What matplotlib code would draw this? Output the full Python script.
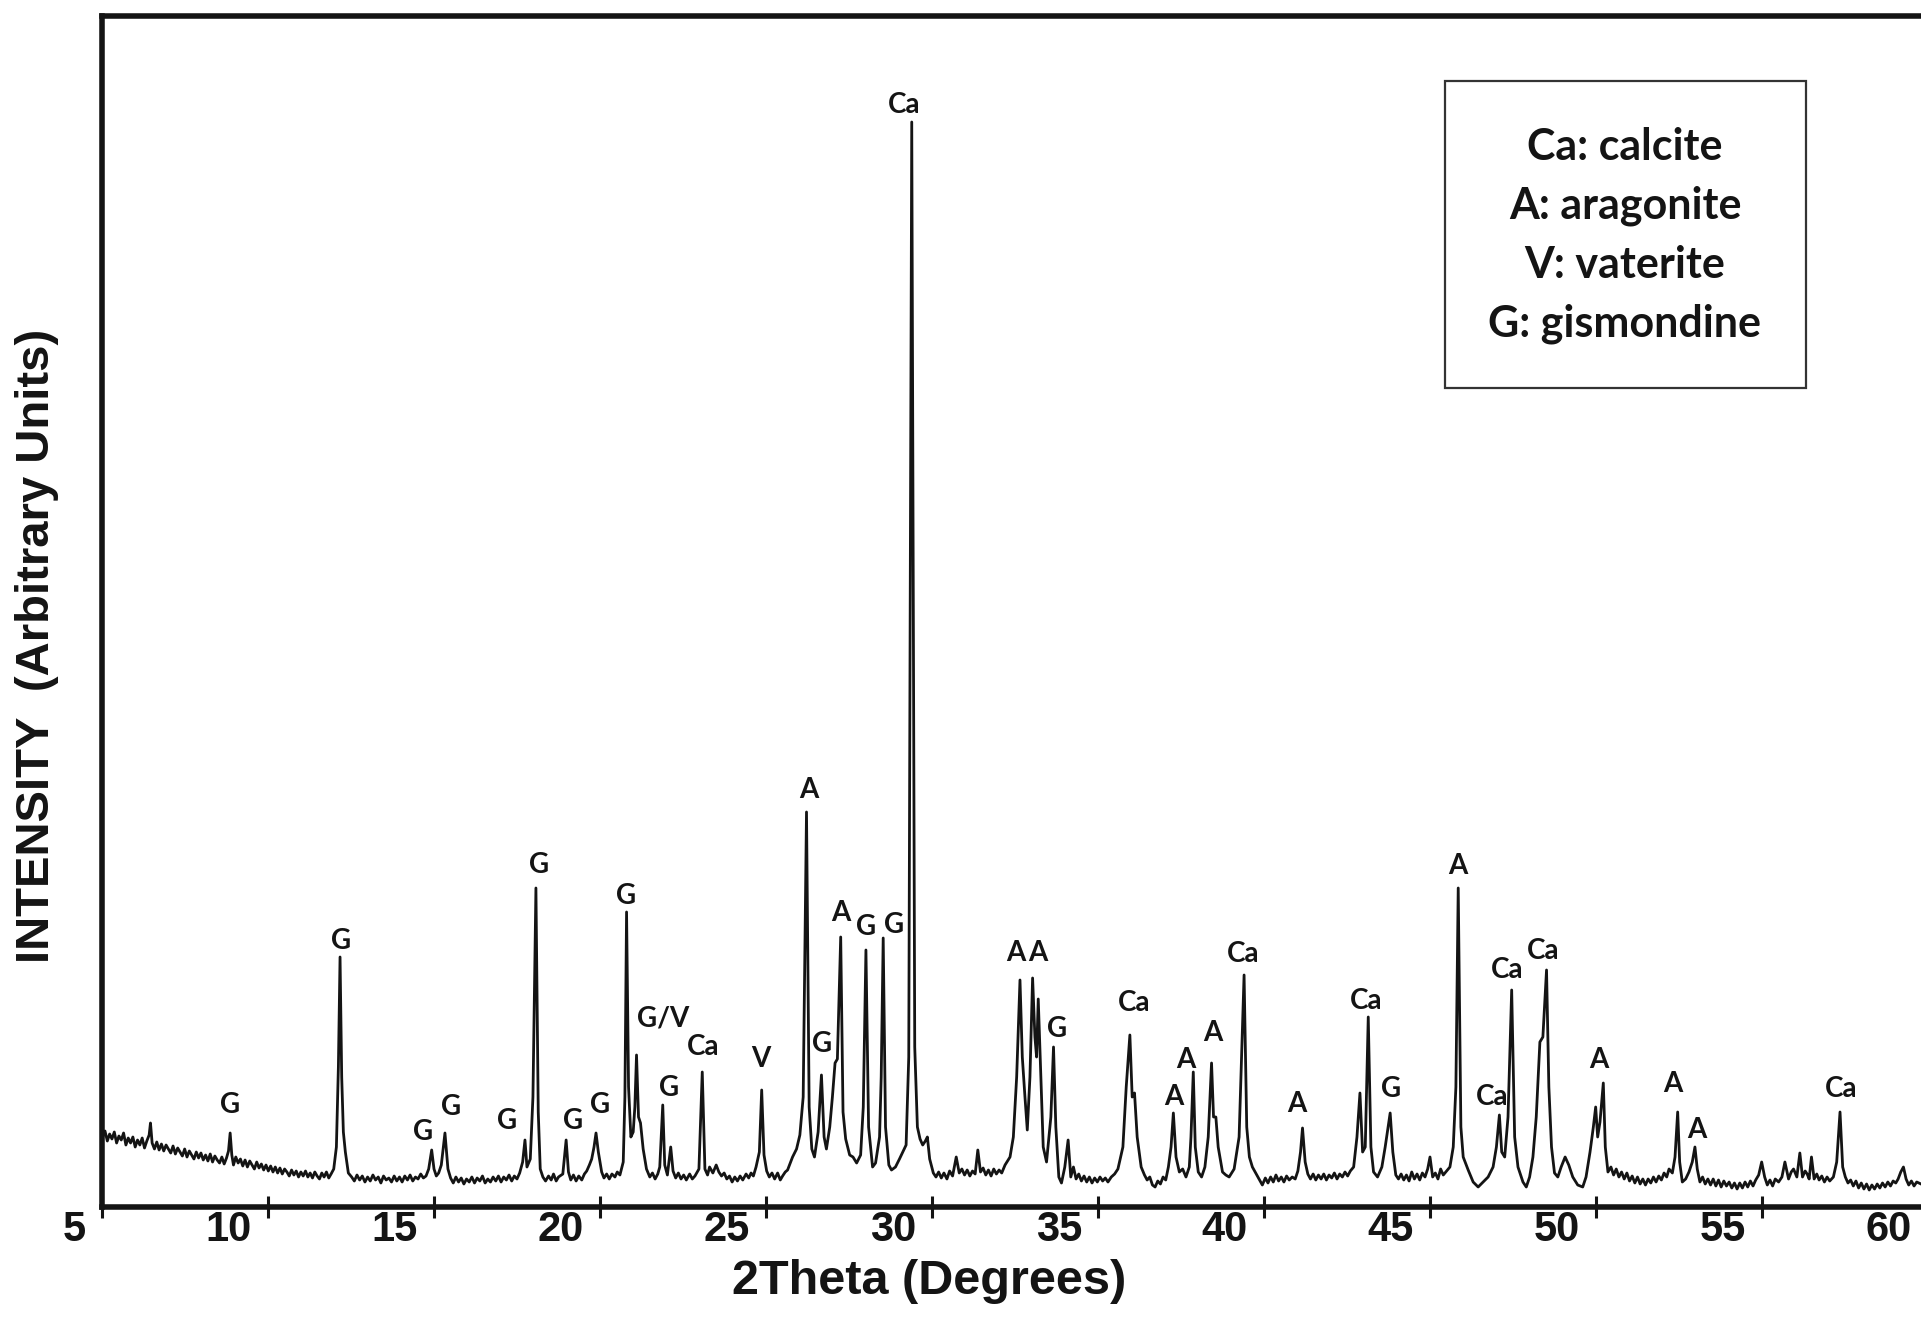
import matplotlib
matplotlib.use("Agg")
import matplotlib.pyplot as plt
from matplotlib.transforms import ScaledTranslation
from matplotlib.patches import Rectangle

# ---------------- data: (2theta, intensity) ----------------
scan_05_12 = [
    (5.02, 70), (5.09, 76), (5.16, 66), (5.23, 73), (5.30, 68), (5.37, 75), (5.44, 64), (5.51, 71),
    (5.58, 67), (5.65, 74), (5.72, 62), (5.79, 69), (5.86, 64), (5.93, 70), (6.00, 60), (6.07, 67),
    (6.14, 62), (6.21, 69), (6.28, 59), (6.35, 66), (6.42, 72), (6.46, 84), (6.51, 64), (6.58, 58),
    (6.65, 65), (6.72, 57), (6.79, 63), (6.86, 56), (6.93, 62), (7.00, 58), (7.07, 54), (7.14, 61),
    (7.21, 53), (7.28, 59), (7.35, 55), (7.42, 51), (7.49, 58), (7.56, 50), (7.63, 56), (7.70, 52),
    (7.77, 48), (7.84, 55), (7.91, 49), (7.98, 54), (8.05, 47), (8.12, 52), (8.19, 46), (8.26, 53),
    (8.33, 45), (8.40, 51), (8.47, 47), (8.54, 44), (8.61, 50), (8.68, 43), (8.75, 49), (8.81, 56),
    (8.86, 74), (8.91, 52), (8.96, 42), (9.03, 50), (9.10, 44), (9.17, 48), (9.24, 41), (9.31, 47),
    (9.38, 40), (9.45, 46), (9.52, 42), (9.59, 38), (9.66, 45), (9.73, 39), (9.80, 43), (9.87, 37),
    (9.94, 42), (10.01, 36), (10.08, 41), (10.15, 35), (10.22, 40), (10.29, 34), (10.36, 39), (10.43, 33),
    (10.50, 38), (10.57, 35), (10.64, 31), (10.71, 37), (10.78, 32), (10.85, 36), (10.92, 30), (10.99, 35),
    (11.06, 31), (11.13, 36), (11.20, 30), (11.27, 34), (11.34, 29), (11.41, 35), (11.48, 31), (11.55, 28),
    (11.62, 34), (11.69, 30), (11.76, 35), (11.83, 29), (11.90, 33), (11.98, 38), (12.06, 60), (12.12, 140),
    (12.17, 250), (12.22, 130), (12.27, 75), (12.33, 55), (12.42, 34),
]
scan_12_20 = [
    (12.52, 30), (12.60, 26), (12.68, 32), (12.76, 27), (12.84, 31), (12.92, 25), (13.00, 30), (13.08, 26),
    (13.16, 32), (13.24, 27), (13.32, 30), (13.40, 24), (13.48, 31), (13.56, 27), (13.64, 29), (13.72, 25),
    (13.80, 31), (13.88, 26), (13.96, 30), (14.04, 25), (14.12, 31), (14.20, 27), (14.28, 32), (14.36, 26),
    (14.44, 30), (14.52, 28), (14.60, 33), (14.68, 29), (14.76, 31), (14.84, 38), (14.93, 57), (15.00, 38),
    (15.07, 31), (15.14, 34), (15.22, 42), (15.33, 74), (15.42, 38), (15.50, 29), (15.58, 24), (15.66, 30),
    (15.74, 25), (15.82, 29), (15.90, 23), (15.98, 28), (16.06, 25), (16.14, 30), (16.22, 24), (16.30, 29),
    (16.38, 26), (16.46, 31), (16.54, 24), (16.62, 28), (16.70, 25), (16.78, 30), (16.86, 26), (16.94, 31),
    (17.02, 25), (17.10, 30), (17.18, 27), (17.26, 32), (17.34, 26), (17.42, 31), (17.50, 28), (17.58, 34),
    (17.67, 45), (17.74, 67), (17.80, 40), (17.90, 48), (17.98, 110), (18.07, 319), (18.14, 95), (18.20, 38),
    (18.28, 30), (18.36, 26), (18.45, 31), (18.53, 27), (18.60, 33), (18.68, 26), (18.75, 30), (18.88, 33),
    (18.98, 67), (19.05, 35), (19.12, 27), (19.20, 32), (19.28, 26), (19.36, 31), (19.45, 27), (19.53, 33),
    (19.60, 36), (19.68, 42), (19.75, 48), (19.82, 60), (19.88, 74), (19.95, 55), (20.05, 35), (20.12, 29),
    (20.20, 33), (20.28, 28), (20.36, 33), (20.45, 30), (20.52, 35), (20.60, 32),
]
scan_20_30 = [
    (20.70, 45), (20.75, 110), (20.80, 295), (20.86, 120), (20.93, 70), (21.00, 75), (21.05, 100),
    (21.10, 152), (21.16, 90), (21.22, 84), (21.30, 58), (21.40, 38), (21.50, 30), (21.58, 34), (21.66, 28),
    (21.74, 33), (21.80, 40), (21.89, 102), (21.95, 42), (22.03, 32), (22.13, 60), (22.20, 36), (22.28, 29),
    (22.36, 34), (22.44, 28), (22.52, 32), (22.60, 27), (22.70, 33), (22.78, 28), (22.86, 31), (22.98, 38),
    (23.08, 135), (23.16, 38), (23.24, 32), (23.30, 40), (23.40, 34), (23.50, 42), (23.58, 35), (23.66, 31),
    (23.74, 34), (23.82, 28), (23.90, 31), (23.98, 25), (24.06, 30), (24.14, 26), (24.22, 31), (24.30, 27),
    (24.40, 33), (24.48, 29), (24.55, 34), (24.62, 31), (24.70, 40), (24.80, 55), (24.87, 117), (24.94, 52),
    (25.02, 36), (25.10, 30), (25.18, 34), (25.26, 28), (25.35, 34), (25.43, 27), (25.50, 31), (25.58, 35),
    (25.65, 37), (25.80, 50), (25.92, 58), (26.02, 72), (26.12, 110), (26.22, 395), (26.30, 100), (26.38, 58),
    (26.46, 50), (26.57, 75), (26.67, 132), (26.75, 70), (26.82, 58), (26.92, 80), (27.00, 110), (27.08, 144),
    (27.15, 148), (27.25, 270), (27.32, 95), (27.40, 68), (27.52, 52), (27.62, 50), (27.73, 44), (27.85, 52),
    (27.93, 100), (28.01, 257), (28.09, 80), (28.21, 40), (28.30, 44), (28.42, 70), (28.47, 130), (28.53, 269),
    (28.60, 80), (28.70, 42), (28.78, 37), (28.90, 40), (29.02, 48), (29.12, 55), (29.22, 62), (29.30, 150),
    (29.39, 1085), (29.48, 160), (29.56, 80), (29.64, 68), (29.72, 62), (29.80, 66), (29.86, 70), (29.93, 48),
]
scan_30_40 = [
    (30.04, 34), (30.12, 30), (30.20, 35), (30.28, 29), (30.36, 34), (30.45, 28), (30.53, 36), (30.62, 31),
    (30.73, 50), (30.82, 34), (30.90, 38), (30.98, 32), (31.06, 37), (31.14, 31), (31.22, 36), (31.30, 33),
    (31.38, 57), (31.46, 35), (31.54, 39), (31.62, 32), (31.70, 37), (31.78, 31), (31.86, 38), (31.94, 33),
    (32.02, 37), (32.10, 34), (32.20, 42), (32.35, 50), (32.45, 70), (32.55, 130), (32.65, 227), (32.72, 150),
    (32.80, 110), (32.87, 77), (32.95, 130), (33.03, 229), (33.10, 170), (33.15, 150), (33.20, 208), (33.27, 140),
    (33.35, 60), (33.45, 45), (33.58, 90), (33.66, 160), (33.73, 80), (33.82, 30), (33.90, 24), (34.00, 40),
    (34.10, 67), (34.18, 30), (34.26, 40), (34.34, 28), (34.42, 33), (34.50, 26), (34.58, 31), (34.66, 25),
    (34.74, 30), (34.82, 24), (34.90, 29), (34.98, 25), (35.06, 30), (35.14, 26), (35.22, 29), (35.30, 25),
    (35.40, 30), (35.50, 33), (35.60, 38), (35.75, 60), (35.85, 120), (35.96, 172), (36.03, 110), (36.10, 114),
    (36.18, 70), (36.30, 40), (36.40, 32), (36.48, 27), (36.56, 30), (36.64, 22), (36.72, 20), (36.80, 26),
    (36.88, 23), (36.96, 30), (37.04, 27), (37.12, 40), (37.20, 60), (37.27, 94), (37.35, 50), (37.45, 35),
    (37.55, 38), (37.65, 30), (37.75, 40), (37.80, 70), (37.87, 135), (37.93, 60), (38.02, 35), (38.12, 30),
    (38.22, 40), (38.32, 70), (38.42, 144), (38.48, 90), (38.55, 90), (38.62, 60), (38.75, 35), (38.85, 32),
    (38.95, 30), (39.10, 38), (39.25, 70), (39.40, 232), (39.48, 80), (39.56, 50), (39.65, 40), (39.75, 34),
    (39.85, 28), (39.95, 22),
]
scan_40_50 = [
    (40.04, 29), (40.12, 24), (40.20, 30), (40.28, 25), (40.36, 32), (40.44, 26), (40.52, 30), (40.60, 25),
    (40.68, 31), (40.76, 27), (40.85, 30), (40.94, 28), (41.02, 36), (41.10, 55), (41.16, 79), (41.24, 45),
    (41.32, 33), (41.40, 28), (41.48, 33), (41.56, 27), (41.64, 32), (41.72, 28), (41.80, 33), (41.88, 27),
    (41.96, 32), (42.04, 29), (42.12, 34), (42.20, 28), (42.28, 33), (42.36, 30), (42.44, 35), (42.52, 31),
    (42.60, 36), (42.70, 40), (42.80, 70), (42.89, 114), (42.97, 55), (43.05, 60), (43.14, 190), (43.22, 60),
    (43.30, 35), (43.42, 30), (43.55, 40), (43.65, 60), (43.80, 94), (43.88, 55), (43.97, 32), (44.05, 28),
    (44.13, 33), (44.21, 27), (44.29, 32), (44.37, 26), (44.45, 35), (44.53, 28), (44.61, 33), (44.69, 27),
    (44.77, 34), (44.85, 30), (44.93, 38), (45.00, 50), (45.08, 30), (45.16, 34), (45.24, 28), (45.32, 38),
    (45.40, 32), (45.50, 36), (45.60, 40), (45.70, 60), (45.78, 120), (45.85, 319), (45.93, 80), (46.00, 50),
    (46.15, 37), (46.30, 25), (46.45, 20), (46.60, 25), (46.75, 30), (46.90, 40), (47.00, 60), (47.09, 92),
    (47.16, 55), (47.25, 50), (47.35, 90), (47.46, 217), (47.55, 70), (47.65, 40), (47.80, 25), (47.90, 20),
    (48.00, 30), (48.10, 50), (48.20, 90), (48.31, 165), (48.40, 170), (48.51, 237), (48.58, 120), (48.66, 60),
    (48.75, 34), (48.85, 30), (48.95, 40), (49.07, 50), (49.18, 42), (49.30, 30), (49.45, 22), (49.60, 20),
    (49.70, 30), (49.82, 55), (49.92, 80),
]
scan_50_60 = [
    (49.99, 100), (50.05, 70), (50.12, 85), (50.22, 124), (50.28, 60), (50.36, 35), (50.45, 40), (50.53, 32),
    (50.61, 38), (50.69, 30), (50.77, 35), (50.85, 28), (50.93, 34), (51.01, 26), (51.09, 31), (51.17, 24),
    (51.25, 30), (51.33, 23), (51.41, 28), (51.49, 22), (51.57, 28), (51.65, 24), (51.73, 30), (51.81, 25),
    (51.89, 31), (51.97, 27), (52.05, 34), (52.13, 30), (52.20, 38), (52.30, 34), (52.38, 50), (52.46, 95),
    (52.52, 45), (52.60, 25), (52.70, 28), (52.80, 35), (52.90, 45), (52.98, 60), (53.05, 38), (53.13, 25),
    (53.21, 30), (53.29, 23), (53.37, 28), (53.45, 22), (53.53, 28), (53.61, 21), (53.69, 27), (53.77, 20),
    (53.85, 26), (53.93, 21), (54.01, 25), (54.09, 19), (54.17, 24), (54.25, 18), (54.33, 24), (54.41, 19),
    (54.49, 25), (54.57, 20), (54.65, 26), (54.73, 21), (54.81, 27), (54.90, 32), (54.99, 45), (55.08, 30),
    (55.16, 22), (55.24, 27), (55.32, 21), (55.40, 28), (55.50, 25), (55.60, 30), (55.69, 45), (55.80, 28),
    (55.88, 35), (55.95, 38), (56.05, 30), (56.14, 54), (56.22, 30), (56.30, 36), (56.36, 33), (56.42, 28),
    (56.49, 50), (56.57, 28), (56.65, 33), (56.72, 27), (56.80, 31), (56.88, 25), (56.96, 30), (57.04, 26),
    (57.15, 30), (57.25, 45), (57.35, 95), (57.43, 40), (57.51, 30), (57.59, 24), (57.67, 27), (57.75, 21),
    (57.83, 26), (57.91, 19), (57.99, 24), (58.07, 18), (58.15, 23), (58.23, 17), (58.31, 22), (58.39, 18),
    (58.47, 23), (58.55, 19), (58.63, 24), (58.71, 20), (58.79, 25), (58.87, 21), (58.95, 26), (59.03, 24),
    (59.10, 28), (59.18, 35), (59.26, 40), (59.34, 28), (59.42, 22), (59.50, 26), (59.58, 21), (59.66, 25),
    (59.79, 23),
]

peak_labels = ["G", "G", "G", "G", "G", "G", "G", "G", "G", "G/V", "G", "Ca", "V", "A", "G",
               "A", "G", "G", "Ca", "A", "A", "G", "Ca", "A", "A", "A", "Ca", "A", "Ca", "G",
               "A", "Ca", "Ca", "Ca", "A", "A", "A", "Ca"]
label_x = [8.86, 12.19, 14.66, 15.5, 17.21, 18.16, 19.19, 20.01, 20.78, 21.89, 22.08, 23.1, 24.84, 26.28, 26.69,
           27.24, 28.01, 28.86, 29.16, 32.52, 33.18, 33.77, 36.1, 37.28, 37.65, 38.46, 39.38, 41.0, 43.07, 43.84,
           45.84, 46.88, 47.31, 48.42, 50.08, 52.3, 53.03, 57.39]
label_y = [102, 266, 75, 100, 86, 342, 86, 102, 311, 188, 119, 160, 148, 417, 163,
           294, 280, 282, 1102, 254, 254, 178, 204, 110, 147, 174, 253, 103, 206, 118,
           341, 110, 237, 256, 147, 123, 77, 118]

x_ticks = [5, 10, 15, 20, 25, 30, 35, 40, 45, 50, 55, 60]
legend_lines = ["Ca: calcite", "A: aragonite", "V: vaterite", "G: gismondine"]

pattern = scan_05_12 + scan_12_20 + scan_20_30 + scan_30_40 + scan_40_50 + scan_50_60
two_theta = [p[0] for p in pattern]
intensity = [p[1] for p in pattern]

# ---------------- figure ----------------
W, H, DPI = 1921, 1339, 100
fig = plt.figure(figsize=(W / DPI, H / DPI), dpi=DPI)
fig.patch.set_facecolor("white")

ax_left, ax_right = 102, 1928
ax_top, ax_bottom = 16, 1207
ax = fig.add_axes([ax_left / W, (H - ax_bottom) / H,
                   (ax_right - ax_left) / W, (ax_bottom - ax_top) / H])

ink = "#141414"
ax.plot(two_theta, intensity, color=ink, lw=2.0, solid_joinstyle="round")

ax.set_xlim(5, 60)
ax.set_ylim(0, 1191)
ax.set_yticks([])

for s in ax.spines.values():
    s.set_linewidth(4.0)
    s.set_color(ink)

ax.set_xticks(x_ticks)
ax.set_xticklabels([str(t) for t in x_ticks], ha="right",
                   fontfamily="Liberation Sans", fontweight="bold", fontsize=30, color=ink)
ax.tick_params(axis="x", direction="inout", length=16, width=2.2, color=ink, pad=-6)
off = ScaledTranslation(-16 / DPI, 0, fig.dpi_scale_trans)
for lab in ax.get_xticklabels():
    lab.set_transform(lab.get_transform() + off)

# peak labels
for t, x, y in zip(peak_labels, label_x, label_y):
    ax.text(x, y, t, ha="center", va="center", fontsize=20, fontweight="bold",
            fontfamily="Lato", color=ink)

# axis titles
fig.text(929 / W, 1 - 1281 / H, "2Theta (Degrees)", ha="center", va="center",
         fontsize=35, fontweight="bold", fontfamily="Liberation Sans", color=ink)
fig.text(37 / W, 1 - 646 / H, "INTENSITY  (Arbitrary Units)", ha="center", va="center",
         rotation=90, fontsize=34, fontweight="bold", fontfamily="Liberation Sans", color=ink)

# legend box
bx0, bx1, by0, by1 = 1445, 1806, 81, 388
fig.add_artist(Rectangle((bx0 / W, 1 - by1 / H), (bx1 - bx0) / W, (by1 - by0) / H,
                         transform=fig.transFigure, fill=False, ec="#333333", lw=1.6))
for i, line in enumerate(legend_lines):
    fig.text(1625 / W, 1 - (147 + 59 * i) / H, line, ha="center", va="center",
             fontsize=31, fontweight="bold", fontfamily="Lato", color=ink)

fig.savefig("out.png", dpi=DPI, facecolor="white")
